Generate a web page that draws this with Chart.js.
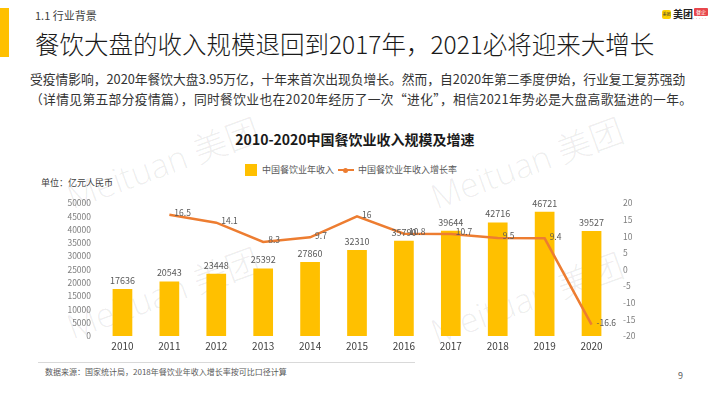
<!DOCTYPE html>
<html>
<head>
<meta charset="utf-8">
<script src="https://cdn.jsdelivr.net/npm/chart.js@4.4.0/dist/chart.umd.min.js"></script>
<style>
  html, body { margin: 0; padding: 0; }
  body {
    width: 710px; height: 399px; position: relative; overflow: hidden;
    background: #fff; font-family: "Noto Sans CJK SC", sans-serif;
  }
  .abs { position: absolute; white-space: nowrap; line-height: 1; }
  .wm {
    position: absolute; white-space: nowrap; line-height: 1;
    font-family: "Open Sans", "Noto Sans CJK SC", sans-serif; font-weight: 300;
    font-size: 34px; color: rgba(0, 0, 0, 0.07);
    transform: translate(-50%, -50%) rotate(-20deg);
  }
  #chartBox { position: absolute; left: 40px; top: 190px; width: 620px; height: 166px; }
</style>
</head>
<body>
  <div class="abs" style="left:0;top:8px;width:9px;height:49px;background:#FFC000;"></div>
  <div class="abs" style="left:35px;top:10px;font-size:11px;color:#404040;">1.1 行业背景</div>
  <div class="abs" id="title" style="left:35px;top:32px;font-size:24.5px;font-weight:300;color:#1a1a1a;">餐饮大盘的收入规模退回到2017年，2021必将迎来大增长</div>

  <!-- logos -->
  <div class="abs" style="left:662px;top:10px;width:9px;height:9px;background:#FFD100;border-radius:2px;font-size:4px;color:#333;text-align:center;line-height:9px;">美团</div>
  <div class="abs" style="left:673px;top:9px;font-size:10px;font-weight:bold;color:#222;">美团</div>
  <div class="abs" style="left:694px;top:8px;width:14px;height:8px;background:#E8464B;border-radius:1px;font-size:5px;color:#fff;text-align:center;line-height:8px;">餐企</div>
  <div class="abs" style="left:692px;top:18px;font-size:3px;color:#E8464B;">·····</div>

  <div class="abs" style="left:30px;top:73px;font-size:12.75px;color:#333;">受疫情影响，2020年餐饮大盘3.95万亿，十年来首次出现负增长。然而，自2020年第二季度伊始，行业复工复苏强劲</div>
  <div class="abs" style="left:30px;top:93px;font-size:12.75px;letter-spacing:0.35px;color:#333;">（详情见第五部分疫情篇），同时餐饮业也在2020年经历了一次“进化”，相信2021年势必是大盘高歌猛进的一年。</div>

  <!-- watermarks -->
  <div class="wm" style="left:163px;top:163px;">Meituan 美团</div>
  <div class="wm" style="left:527px;top:163px;">Meituan 美团</div>
  <div class="wm" style="left:163px;top:293px;">Meituan 美团</div>
  <div class="wm" style="left:527px;top:298px;">Meituan 美团</div>

  <div class="abs" style="left:0;width:710px;top:132px;text-align:center;font-size:14px;font-weight:bold;color:#1a1a1a;">2010-2020中国餐饮业收入规模及增速</div>

  <!-- legend -->
  <div class="abs" style="left:245px;top:164px;width:12px;height:12px;background:#FFC000;"></div>
  <div class="abs" style="left:262px;top:165px;font-size:9px;color:#595959;">中国餐饮业年收入</div>
  <div class="abs" style="left:338px;top:169px;width:16px;height:2px;background:#ED7D31;"></div>
  <div class="abs" style="left:343px;top:167.5px;width:5px;height:5px;border-radius:50%;background:#ED7D31;"></div>
  <div class="abs" style="left:358px;top:165px;font-size:9px;color:#595959;">中国餐饮业年收入增长率</div>

  <div class="abs" style="left:41px;top:178px;font-size:9px;color:#404040;">单位：亿元人民币</div>

  <div id="chartBox"><canvas id="chart"></canvas></div>

  <div class="abs" style="left:38px;top:362px;width:377px;height:1px;background:#d9d9d9;"></div>
  <div class="abs" style="left:45px;top:368px;font-size:8px;color:#595959;">数据来源：国家统计局，2018年餐饮业年收入增长率按可比口径计算</div>
  <div class="abs" style="left:678px;top:371px;font-size:9px;color:#595959;">9</div>

<script>
const years = ["2010", "2011", "2012", "2013", "2014", "2015", "2016", "2017", "2018", "2019", "2020"];
const revenue = [17636, 20543, 23448, 25392, 27860, 32310, 35790, 39644, 42716, 46721, 39527];
const growth = [null, 16.5, 14.1, 8.3, 9.7, 16, 10.8, 10.7, 9.5, 9.4, -16.6];
const revenueTicks = [0, 5000, 10000, 15000, 20000, 25000, 30000, 35000, 40000, 45000, 50000];
const growthTicks = [-20, -15, -10, -5, 0, 5, 10, 15, 20];

const FONT = '"Noto Sans CJK SC", sans-serif';
Chart.defaults.font.family = FONT;

// draws the value labels next to bars and line points
const valueLabels = {
  id: "valueLabels",
  afterDatasetsDraw(chart) {
    const ctx = chart.ctx;
    ctx.save();
    ctx.fillStyle = "#595959";
    ctx.font = "9px " + FONT;

    ctx.textAlign = "center";
    ctx.textBaseline = "bottom";
    chart.getDatasetMeta(1).data.forEach((el, i) => {
      ctx.fillText(revenue[i], el.x, el.y - 4);
    });

    ctx.font = "8.5px " + FONT;
    ctx.textAlign = "left";
    ctx.textBaseline = "middle";
    chart.getDatasetMeta(0).data.forEach((el, i) => {
      if (growth[i] == null) return;
      ctx.fillText(growth[i], el.x + 5, el.y - 2);
    });
    ctx.restore();
  }
};

new Chart(document.getElementById("chart"), {
  data: {
    labels: years,
    datasets: [
      {
        type: "line",
        label: "中国餐饮业年收入增长率",
        data: growth,
        yAxisID: "y1",
        borderColor: "#ED7D31",
        borderWidth: 2.5,
        pointRadius: 0,
        tension: 0,
        order: 0
      },
      {
        type: "bar",
        label: "中国餐饮业年收入",
        data: revenue,
        yAxisID: "y",
        backgroundColor: "#FFC000",
        barPercentage: 0.42,
        categoryPercentage: 1,
        order: 1
      }
    ]
  },
  options: {
    responsive: true,
    maintainAspectRatio: false,
    animation: false,
    layout: { padding: { top: 8, left: 0, right: 0, bottom: 0 } },
    plugins: { legend: { display: false }, tooltip: { enabled: false } },
    scales: {
      x: {
        grid: { display: false, drawTicks: false },
        border: { display: false },
        ticks: { color: "#404040", font: { size: 10 }, padding: 4, maxRotation: 0 },
        afterFit(s) { s.height = 20; }
      },
      y: {
        position: "left",
        min: revenueTicks[0],
        max: revenueTicks[revenueTicks.length - 1],
        afterBuildTicks(s) { s.ticks = revenueTicks.map(v => ({ value: v })); },
        grid: { display: false, drawTicks: false },
        border: { display: false },
        ticks: { color: "#7f7f7f", font: { size: 8.5 }, padding: 8, callback: v => String(v) },
        afterFit(s) { s.width = 59; }
      },
      y1: {
        position: "right",
        min: growthTicks[0],
        max: growthTicks[growthTicks.length - 1],
        afterBuildTicks(s) { s.ticks = growthTicks.map(v => ({ value: v })); },
        grid: { display: false, drawTicks: false },
        border: { display: false },
        ticks: { color: "#7f7f7f", font: { size: 8.5 }, padding: 8, callback: v => String(v) },
        afterFit(s) { s.width = 45; }
      }
    }
  },
  plugins: [valueLabels]
});
</script>
</body>
</html>
